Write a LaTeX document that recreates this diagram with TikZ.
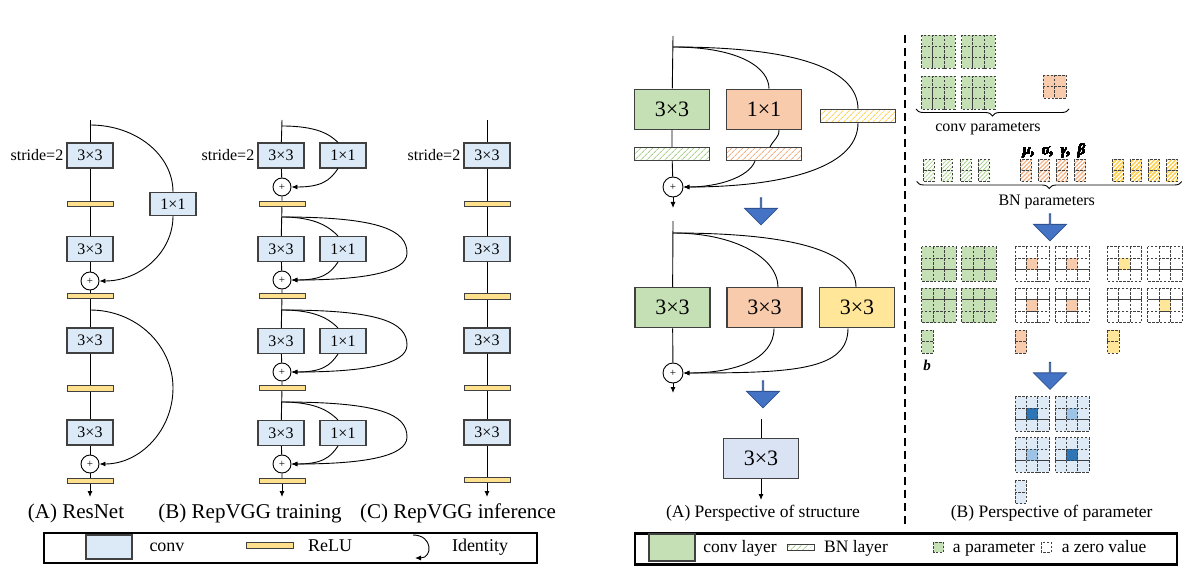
\documentclass[tikz,border=0pt]{standalone}
\usepackage{fontspec}
\setmainfont{Liberation Serif}
\usetikzlibrary{arrows.meta, positioning, shapes.arrows, patterns.meta, decorations.pathreplacing}
\definecolor{edgegray}{RGB}{64,64,64}
\definecolor{convblue}{RGB}{220,233,246}
\definecolor{reluyellow}{RGB}{255,224,140}
\definecolor{lgreen}{RGB}{197,224,180}
\definecolor{lorange}{RGB}{248,203,173}
\definecolor{lyellow}{RGB}{255,230,153}
\definecolor{lblue}{RGB}{218,227,243}
\definecolor{hgreen}{RGB}{169,209,142}
\definecolor{horange}{RGB}{244,177,131}
\definecolor{hyellow}{RGB}{255,210,90}
\definecolor{arrowblue}{RGB}{68,114,196}
\definecolor{arrowedge}{RGB}{47,82,143}
\definecolor{pdark}{RGB}{46,117,182}
\definecolor{plight}{RGB}{157,195,230}
\definecolor{pbg}{RGB}{222,235,247}
\tikzset{
  conv/.style={rectangle, draw=edgegray, fill=convblue, line width=1.1pt,
    minimum width=46pt, minimum height=25pt, inner sep=0pt, font=\fontsize{16}{16}\selectfont},
  relu/.style={rectangle, draw=edgegray, fill=reluyellow, line width=1pt,
    minimum width=46pt, minimum height=5.5pt, inner sep=0pt},
  plus/.style={circle, draw=black, fill=white, line width=0.9pt, minimum size=18pt,
    inner sep=0pt, font=\fontsize{11}{11}\selectfont},
  flow/.style={line width=0.9pt, black},
  arrow/.style={flow, -{Latex[length=6pt,width=5pt]}},
  caption/.style={font=\fontsize{21}{21}\selectfont},
  capsmall/.style={font=\fontsize{17.5}{17.5}\selectfont},
  stridelbl/.style={font=\fontsize{16}{16}\selectfont, inner sep=2pt},
  layer/.style={rectangle, draw=edgegray, line width=1.2pt, minimum width=75pt,
    minimum height=40pt, inner sep=0pt, font=\fontsize{22}{22}\selectfont},
  bnbar/.style={rectangle, draw=edgegray, line width=1.1pt, minimum width=75pt,
    minimum height=13pt, inner sep=0pt, pattern={Lines[angle=45,distance=4pt,line width=0.9pt]}},
  bigarrow/.style={single arrow, draw=arrowedge, fill=arrowblue, line width=0.8pt, rotate=-90,
    minimum height=27pt, minimum width=33pt, single arrow head extend=9pt, inner sep=0pt},
  cell/.style={draw=edgegray, dash pattern=on 2.5pt off 1.5pt, line width=0.8pt},
  legendframe/.style={rectangle, draw=black, line width=2.2pt, inner sep=0pt},
  legtext/.style={font=\fontsize{18}{18}\selectfont, text height=12pt, text depth=4pt},
  legsmall/.style={font=\fontsize{17.5}{17.5}\selectfont, text height=12pt, text depth=4pt},
  partext/.style={font=\fontsize{16}{16}\selectfont},
  greek/.style={font=\fontsize{15}{15}\selectfont\bfseries\itshape, inner sep=0pt, anchor=base},
}
% grid of dashed parameter cells: x, y (top left), cols, rows, cell size, options
\newcommand{\paramgrid}[6]{%
  \foreach \i in {1,...,#3}{\foreach \j in {1,...,#4}{%
    \draw[cell,#6] ({#1+(\i-1)*#5},{#2+(\j-1)*#5}) rectangle ++(#5,#5);}}}
% centre cell of a 3x3 kernel
\newcommand{\centercell}[3]{%
  \draw[cell, fill=#3] ({#1+11.4},{#2+11.4}) rectangle ++(11.4,11.4);}

\begin{document}
\begin{tikzpicture}[x=1pt, y=-1pt]
\useasboundingbox (0,0) rectangle (1199,572);

% (A) ResNet
\coordinate (topA) at (90,120);
\coordinate (brA1) at (90,125);
\node[conv] (a1) at (90,155.5) {3×3};
\node[stridelbl, left=1pt of a1] (strideA) {stride=2};
\node[relu] (rA1) at (90,204) {};
\node[conv, minimum height=23pt] (oA1) at (173,204) {1×1};
\node[conv] (a2) at (90,249) {3×3};
\node[plus] (pA1) at (90,281) {+};
\node[relu] (rA2) at (90,296) {};
\coordinate (brA2) at (90,310);
\node[conv] (a3) at (90,340.5) {3×3};
\node[relu] (rA3) at (90,388.5) {};
\node[conv] (a4) at (90,432.5) {3×3};
\node[plus] (pA2) at (90,464) {+};
\node[relu] (rA4) at (90,481) {};
\coordinate (endA) at (90,497);
\coordinate (midA2) at (173,388);
\draw[flow] (topA) -- (a1) -- (rA1) -- (a2) -- (pA1) -- (rA2) -- (a3) -- (rA3) -- (a4) -- (pA2) -- (rA4);
\draw[arrow] (rA4) -- (endA);
\draw[flow] (brA1) .. controls +(46,0) and +(0,-37) .. (oA1.north);
\draw[arrow] (oA1.south) .. controls +(0,36) and +(41,0) .. (pA1.east);
\draw[arrow] (brA2) .. controls +(46,0) and +(0,-43) .. (midA2) .. controls +(0,42) and +(41,0) .. (pA2.east);
\node[caption] (capA) at (76,513) {(A) ResNet};

% (B) RepVGG training
\coordinate (topB) at (282,120);
\coordinate (brB1) at (282,126);
\node[conv] (b1) at (281,155.5) {3×3};
\node[stridelbl, left=1pt of b1] (strideB) {stride=2};
\node[conv] (oB1) at (343,155.5) {1×1};
\node[plus] (pB1) at (282,187) {+};
\node[relu] (rB1) at (282,204) {};
\coordinate (brB2) at (282,217);
\node[conv] (b2) at (281,249) {3×3};
\node[conv] (oB2) at (343,249) {1×1};
\node[plus] (pB2) at (282,280) {+};
\node[relu] (rB2) at (282,296) {};
\coordinate (brB3) at (282,310);
\node[conv] (b3) at (281,341) {3×3};
\node[conv] (oB3) at (343,341) {1×1};
\node[plus] (pB3) at (282,372) {+};
\node[relu] (rB3) at (282,388) {};
\coordinate (brB4) at (282,402);
\node[conv] (b4) at (281,433) {3×3};
\node[conv] (oB4) at (343,433) {1×1};
\node[plus] (pB4) at (282,464) {+};
\node[relu] (rB4) at (282,481) {};
\coordinate (endB) at (282,497);
\draw[flow] (topB) -- (b1) -- (pB1) -- (rB1) -- (b2) -- (pB2) -- (rB2) -- (b3) -- (pB3) -- (rB3) -- (b4) -- (pB4) -- (rB4);
\draw[arrow] (rB4) -- (endB);
\draw[flow] (brB1) .. controls +(35,0) and +(-8,-8) .. ([xshift=-5pt]oB1.north);
\draw[arrow] ([xshift=-5pt]oB1.south) .. controls +(-8,12) and +(30,0) .. (pB1.east);
\draw[flow] (brB2) .. controls +(35,0) and +(-8,-8) .. ([xshift=-5pt]oB2.north);
\draw[arrow] ([xshift=-5pt]oB2.south) .. controls +(-8,12) and +(30,0) .. (pB2.east);
\draw[arrow] (brB2) .. controls +(100,0) and +(0,-22) .. (407,253) .. controls +(0,20) and +(70,0) .. (pB2.east);
\draw[flow] (brB3) .. controls +(35,0) and +(-8,-8) .. ([xshift=-5pt]oB3.north);
\draw[arrow] ([xshift=-5pt]oB3.south) .. controls +(-8,12) and +(30,0) .. (pB3.east);
\draw[arrow] (brB3) .. controls +(100,0) and +(0,-22) .. (407,345) .. controls +(0,20) and +(70,0) .. (pB3.east);
\draw[flow] (brB4) .. controls +(35,0) and +(-8,-8) .. ([xshift=-5pt]oB4.north);
\draw[arrow] ([xshift=-5pt]oB4.south) .. controls +(-8,12) and +(30,0) .. (pB4.east);
\draw[arrow] (brB4) .. controls +(100,0) and +(0,-22) .. (407,437) .. controls +(0,20) and +(70,0) .. (pB4.east);
\node[caption] (capB) at (250,513) {(B) RepVGG training};

% (C) RepVGG inference
\coordinate (topC) at (487,120);
\node[conv] (c1) at (487,155.5) {3×3};
\node[stridelbl, left=1pt of c1] (strideC) {stride=2};
\node[relu] (rC1) at (487,204) {};
\node[conv] (c2) at (487,249) {3×3};
\node[relu] (rC2) at (487,296.5) {};
\node[conv] (c3) at (487,340.5) {3×3};
\node[relu] (rC3) at (487,388) {};
\node[conv] (c4) at (487,432.5) {3×3};
\node[relu] (rC4) at (487,480) {};
\coordinate (endC) at (487,497);
\draw[flow] (topC) -- (c1) -- (rC1) -- (c2) -- (rC2) -- (c3) -- (rC3) -- (c4) -- (rC4);
\draw[arrow] (rC4) -- (endC);
\node[caption] (capC) at (458,513) {(C) RepVGG inference};

% legend, left
\node[legendframe, minimum width=493pt, minimum height=30pt] (legA) at (290.5,548) {};
\node[conv, minimum width=46pt, minimum height=24pt] (legconv) at (109,547) {};
\node[legtext] (legconvtxt) at (167,547) {conv};
\node[relu, minimum width=47pt] (legrelu) at (269.5,545.5) {};
\node[legtext] (legrelutxt) at (330,547) {ReLU};
\coordinate (idtop) at (413,535);
\coordinate (idbot) at (415,558);
\draw[arrow] (idtop) .. controls +(20,0) and +(18,0) .. (idbot);
\node[legtext] (legidtxt) at (480,547) {Identity};

% (A) perspective of structure
\coordinate (topS1) at (673,36);
\coordinate (brS1) at (673,47);
\node[layer, fill=lgreen] (g1) at (672,109.3) {3×3};
\node[layer, fill=lorange] (o1) at (764,109.3) {1×1};
\node[bnbar, pattern color=hyellow] (ybn) at (858,116) {};
\node[bnbar, pattern color=hgreen] (gbn) at (672,154) {};
\node[bnbar, pattern color=horange] (obn) at (764,154) {};
\node[plus, minimum size=20pt] (pS1) at (673,187) {+};
\coordinate (endS1) at (673,208);
\draw[flow] (topS1) -- (g1) -- (gbn) -- (pS1);
\draw[arrow] (pS1) -- (endS1);
\draw[flow] (brS1) .. controls (740,47) and (769,68) .. ([xshift=5pt]o1.north);
\draw[flow] (brS1) .. controls (805,47) and (858,72) .. (ybn.north);
\draw[flow] ([xshift=15pt]o1.south) .. controls +(0,8) and +(4,-8) .. ([xshift=6pt]obn.north);
\draw[arrow] ([xshift=-9pt]obn.south) .. controls +(-6,16) and +(35,0) .. (pS1.east);
\draw[arrow] (ybn.south) .. controls +(0,48) and +(90,0) .. (pS1.east);
\node[bigarrow] (down1) at (761,211) {};

\coordinate (topS2) at (673,221);
\coordinate (brS2) at (673,233);
\node[layer, fill=lgreen] (g2) at (672.5,307.7) {3×3};
\node[layer, fill=lorange] (o2) at (764.5,307.7) {3×3};
\node[layer, fill=lyellow] (y2) at (857,307.7) {3×3};
\node[plus, minimum size=20pt] (pS2) at (673,373) {+};
\coordinate (endS2) at (673,393);
\draw[flow] (topS2) -- (g2) -- (pS2);
\draw[arrow] (pS2) -- (endS2);
\draw[flow] (brS2) .. controls (735,233) and (778,258) .. ([xshift=13.5pt]o2.north);
\draw[flow] (brS2) .. controls (805,233) and (856,255) .. ([xshift=-1pt]y2.north);
\draw[arrow] ([xshift=9.5pt]o2.south) .. controls +(0,32) and +(50,0) .. (pS2.east);
\draw[arrow] ([xshift=-9pt]y2.south) .. controls +(0,42) and +(110,0) .. (pS2.east);
\node[bigarrow] (down2) at (763,394) {};

\coordinate (topS3) at (761,419);
\node[layer, fill=lblue] (f3) at (761,458.3) {3×3};
\coordinate (endS3) at (761,500);
\draw[flow] (topS3) -- (f3);
\draw[arrow] (f3) -- (endS3);
\node[capsmall] (capS) at (763,513) {(A) Perspective of structure};

% divider
\draw[line width=2pt, dash pattern=on 8pt off 5pt] (905,35) -- (905,525);

% (B) perspective of parameter
\paramgrid{921.7}{35}{3}{3}{11.1}{fill=lgreen}
\paramgrid{961.7}{35}{3}{3}{11.1}{fill=lgreen}
\paramgrid{921.7}{76}{3}{3}{11.1}{fill=lgreen}
\paramgrid{961.7}{76}{3}{3}{11.1}{fill=lgreen}
\paramgrid{1043.3}{75}{2}{2}{11.5}{fill=lorange}
\draw[flow, decorate, decoration={brace, mirror, amplitude=7pt}] (916,109) -- (1069,109);
\node[partext] (convpar) at (988,129) {conv parameters};

\foreach \x in {923.3,941.7,960,978.3}
  \paramgrid{\x}{159.3}{1}{2}{11}{pattern={Lines[angle=45,distance=3pt,line width=0.8pt]}, pattern color=hgreen}
\foreach \x in {1020.7,1038.7,1056.7,1074.7}
  \paramgrid{\x}{159.3}{1}{2}{11}{pattern={Lines[angle=45,distance=3pt,line width=0.8pt]}, pattern color=horange}
\foreach \x in {1112.7,1130.7,1148.7,1166.7}
  \paramgrid{\x}{159.3}{1}{2}{11}{pattern={Lines[angle=45,distance=3pt,line width=0.8pt]}, pattern color=hyellow}
\node[greek] (bnsyms) at (1054,155) {μ,\hspace{7pt}σ,\hspace{7pt}γ,\hspace{7pt}β};
\draw[flow, decorate, decoration={brace, mirror, amplitude=7pt}] (916.7,181.5) -- (1181.7,181.5);
\node[partext] (bnpar) at (1046.7,201.5) {BN parameters};
\node[bigarrow] (down3) at (1050,227) {};

\paramgrid{921.7}{246.7}{3}{3}{11.4}{fill=lgreen}
\paramgrid{961.7}{246.7}{3}{3}{11.4}{fill=lgreen}
\paramgrid{921.7}{288.3}{3}{3}{11.4}{fill=lgreen}
\paramgrid{961.7}{288.3}{3}{3}{11.4}{fill=lgreen}
\paramgrid{1015}{246.7}{3}{3}{11.4}{fill=white}
\paramgrid{1055}{246.7}{3}{3}{11.4}{fill=white}
\paramgrid{1015}{288.3}{3}{3}{11.4}{fill=white}
\paramgrid{1055}{288.3}{3}{3}{11.4}{fill=white}
\centercell{1015}{246.7}{lorange}
\centercell{1055}{246.7}{lorange}
\centercell{1015}{288.3}{lorange}
\centercell{1055}{288.3}{lorange}
\paramgrid{1107.3}{246.7}{3}{3}{11.4}{fill=white}
\paramgrid{1147.7}{246.7}{3}{3}{11.4}{fill=white}
\paramgrid{1107.3}{288.3}{3}{3}{11.4}{fill=white}
\paramgrid{1147.7}{288.3}{3}{3}{11.4}{fill=white}
\centercell{1107.3}{246.7}{lyellow}
\centercell{1147.7}{288.3}{lyellow}
\paramgrid{921.7}{330}{1}{2}{11.6}{fill=lgreen}
\paramgrid{1015}{330}{1}{2}{11.6}{fill=lorange}
\paramgrid{1107.3}{330}{1}{2}{11.6}{fill=lyellow}
\node[font=\fontsize{15}{15}\selectfont\bfseries\itshape, inner sep=0pt] (bias) at (927,365) {b};
\node[bigarrow] (down4) at (1050,375.5) {};

\paramgrid{1015}{396.7}{3}{3}{11.4}{fill=pbg}
\paramgrid{1055}{396.7}{3}{3}{11.4}{fill=pbg}
\paramgrid{1015}{437.7}{3}{3}{11.4}{fill=pbg}
\paramgrid{1055}{437.7}{3}{3}{11.4}{fill=pbg}
\centercell{1015}{396.7}{pdark}
\centercell{1055}{396.7}{plight}
\centercell{1015}{437.7}{plight}
\centercell{1055}{437.7}{pdark}
\paramgrid{1015}{480.7}{1}{2}{11.4}{fill=pbg}
\node[capsmall] (capP) at (1051.7,513.3) {(B) Perspective of parameter};

% legend, right
\node[legendframe, minimum width=542pt, minimum height=31pt] (legB) at (906,549) {};
\node[layer, fill=lgreen, minimum width=46pt, minimum height=27pt] (leglayer) at (672,547.5) {};
\node[legsmall] (leglayertxt) at (740,548) {conv layer};
\node[bnbar, pattern color=hgreen, minimum width=27pt, minimum height=6pt, line width=0.8pt] (legbn) at (801,547) {};
\node[legsmall] (legbntxt) at (856,548) {BN layer};
\draw[cell, fill=lgreen] (933.5,542) rectangle ++(10,10);
\node[legsmall] (legpartxt) at (994,548) {a parameter};
\draw[cell] (1041,542) rectangle ++(10,10);
\node[legsmall] (legzerotxt) at (1104,548) {a zero value};
\end{tikzpicture}
\end{document}
